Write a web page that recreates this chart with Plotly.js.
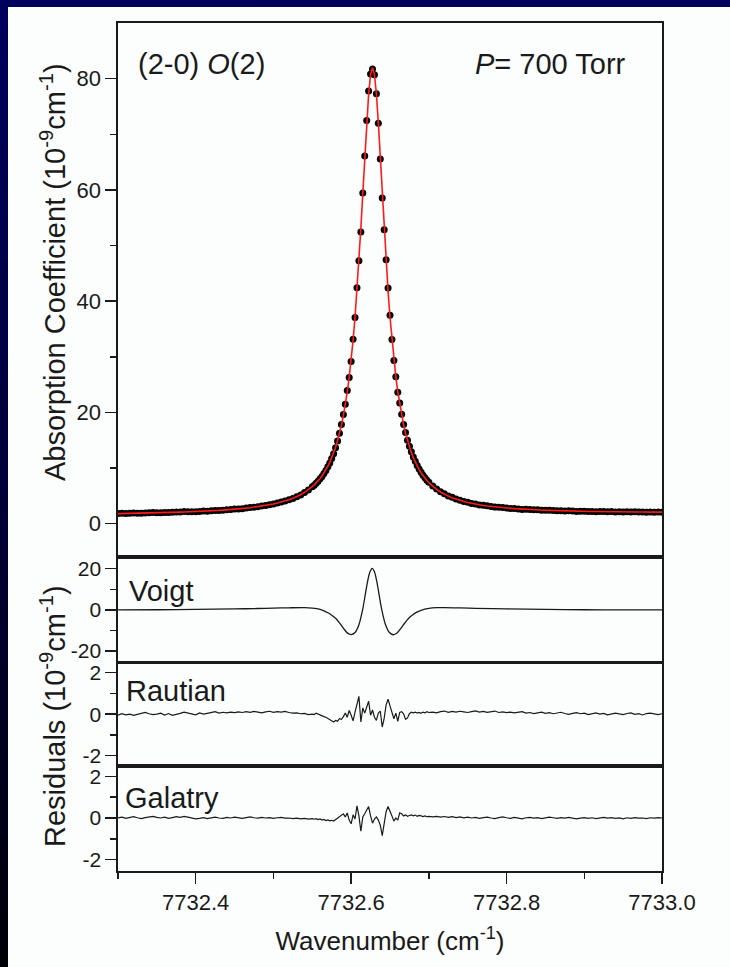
<!DOCTYPE html>
<html>
<head>
<meta charset="utf-8">
<script src="https://cdn.plot.ly/plotly-3.0.1.min.js"></script>
<style>
  html, body { margin: 0; padding: 0; width: 730px; height: 967px; overflow: hidden; }
  body { background: linear-gradient(to bottom, #00005e 0%, #00003a 50%, #000008 100%); position: relative; }
  #panel { position: absolute; left: 8px; top: 7px; right: 0; bottom: 0; background: #fcfdfd; }
  #chart { position: absolute; left: 0; top: 0; width: 730px; height: 967px; }
</style>
</head>
<body>
<div id="panel"></div>
<div id="chart"></div>
<script>
// ---- Data ----
const wavenumber = [
 7732.300,7732.305,7732.310,7732.315,7732.320,7732.325,7732.330,7732.335,7732.340,7732.345,
 7732.350,7732.355,7732.360,7732.365,7732.370,7732.375,7732.380,7732.385,7732.390,7732.395,
 7732.400,7732.405,7732.410,7732.415,7732.420,7732.425,7732.430,7732.435,7732.440,7732.445,
 7732.450,7732.455,7732.460,7732.465,7732.470,7732.475,7732.480,7732.485,7732.490,7732.495,
 7732.500,7732.505,7732.510,7732.515,7732.520,7732.525,7732.530,7732.535,7732.540,7732.545,
 7732.550,
 7732.5525,7732.5550,7732.5575,7732.5600,7732.5625,7732.5650,7732.5675,7732.5700,7732.5725,7732.5750,
 7732.5775,7732.5800,7732.5825,7732.5850,7732.5875,7732.5900,7732.5925,7732.5950,7732.5975,7732.6000,
 7732.6025,7732.6050,7732.6075,7732.6100,7732.6125,7732.6150,7732.6175,7732.6200,7732.6225,7732.6250,
 7732.6275,7732.6300,7732.6325,7732.6350,7732.6375,7732.6400,7732.6425,7732.6450,7732.6475,7732.6500,
 7732.6525,7732.6550,7732.6575,7732.6600,7732.6625,7732.6650,7732.6675,7732.6700,7732.6725,7732.6750,
 7732.6775,7732.6800,7732.6825,7732.6850,7732.6875,7732.6900,7732.6925,7732.6950,7732.6975,7732.7000,
 7732.705,7732.710,7732.715,7732.720,7732.725,7732.730,7732.735,7732.740,7732.745,7732.750,
 7732.755,7732.760,7732.765,7732.770,7732.775,7732.780,7732.785,7732.790,7732.795,7732.800,
 7732.805,7732.810,7732.815,7732.820,7732.825,7732.830,7732.835,7732.840,7732.845,7732.850,
 7732.855,7732.860,7732.865,7732.870,7732.875,7732.880,7732.885,7732.890,7732.895,7732.900,
 7732.905,7732.910,7732.915,7732.920,7732.925,7732.930,7732.935,7732.940,7732.945,7732.950,
 7732.955,7732.960,7732.965,7732.970,7732.975,7732.980,7732.985,7732.990,7732.995,7733.000
];

// measured absorption coefficient (black dots), 1e-9 cm^-1
const measured = [
 1.80,1.85,1.80,1.87,1.91,1.87,1.85,1.91,1.96,2.00,
 1.97,1.96,2.02,1.98,2.04,2.10,2.09,2.17,2.15,2.15,
 2.13,2.18,2.25,2.23,2.31,2.38,2.38,2.41,2.50,2.53,
 2.62,2.65,2.69,2.80,2.91,2.96,3.03,3.17,3.26,3.41,
 3.51,3.70,3.90,4.06,4.30,4.53,4.85,5.16,5.59,6.03,
 6.61,
 6.90,7.28,7.61,8.06,8.47,9.03,9.55,10.22,10.88,11.71,
 12.57,13.65,14.85,16.25,17.82,19.62,21.46,23.94,26.25,29.14,
 33.15,37.05,42.39,47.24,52.41,59.45,66.10,72.46,77.79,80.83,
 81.71,80.68,77.29,71.96,65.55,58.55,52.85,47.44,42.36,37.45,
 33.12,29.31,26.39,23.64,21.70,19.66,17.84,16.39,15.01,13.89,
 12.91,11.96,11.20,10.43,9.83,9.24,8.69,8.26,7.80,7.44,
 6.76,6.24,5.73,5.36,4.98,4.72,4.42,4.22,3.98,3.84,
 3.64,3.53,3.36,3.29,3.21,3.08,2.97,2.95,2.91,2.81,
 2.73,2.72,2.64,2.56,2.58,2.56,2.48,2.48,2.40,2.40,
 2.42,2.36,2.32,2.33,2.28,2.30,2.26,2.20,2.22,2.23,
 2.19,2.20,2.15,2.16,2.19,2.14,2.16,2.11,2.13,2.08,
 2.12,2.08,2.12,2.08,2.09,2.05,2.09,2.06,2.09,2.06
];

// fitted profile (red line)
const fitted = [
 1.80,1.81,1.82,1.84,1.85,1.86,1.88,1.89,1.91,1.92,
 1.94,1.96,1.98,2.00,2.02,2.04,2.06,2.09,2.11,2.14,
 2.17,2.20,2.23,2.26,2.30,2.34,2.38,2.43,2.47,2.53,
 2.58,2.64,2.71,2.78,2.86,2.95,3.04,3.14,3.26,3.39,
 3.53,3.69,3.87,4.07,4.30,4.56,4.86,5.20,5.61,6.08,
 6.64,
 6.96,7.31,7.69,8.11,8.57,9.10,9.67,10.31,11.02,11.82,
 12.72,13.73,14.89,16.20,17.70,19.42,21.41,23.70,26.35,29.42,
 33.00,37.10,41.81,47.14,53.05,59.40,65.90,72.06,77.24,80.73,
 81.96,80.73,77.24,72.06,65.90,59.40,53.05,47.14,41.81,37.10,
 33.02,29.46,26.39,23.74,21.45,19.46,17.74,16.24,14.93,13.77,
 12.76,11.86,11.06,10.35,9.71,9.14,8.62,8.16,7.74,7.36,
 6.71,6.16,5.69,5.29,4.95,4.66,4.40,4.17,3.97,3.80,
 3.64,3.50,3.38,3.27,3.17,3.08,3.00,2.93,2.86,2.80,
 2.75,2.69,2.64,2.60,2.57,2.53,2.49,2.46,2.43,2.40,
 2.38,2.35,2.34,2.31,2.29,2.27,2.26,2.24,2.23,2.21,
 2.21,2.19,2.18,2.16,2.16,2.15,2.14,2.13,2.13,2.12,
 2.11,2.10,2.10,2.09,2.09,2.08,2.08,2.07,2.07,2.06
];

// Voigt residual (own sampling)
const wavenumberVoigt = [
 7732.300,7732.350,7732.400,7732.450,7732.480,7732.500,7732.520,7732.540,7732.550,7732.560,
 7732.565,7732.570,7732.575,7732.580,7732.585,7732.590,7732.595,7732.600,7732.605,7732.610,
 7732.615,7732.618,7732.621,7732.624,7732.627,7732.630,7732.633,7732.636,7732.639,7732.644,
 7732.649,7732.654,7732.659,7732.664,7732.669,7732.674,7732.679,7732.684,7732.690,7732.700,
 7732.710,7732.720,7732.740,7732.760,7732.800,7732.850,7732.900,7732.950,7733.000
];
const residVoigt = [
 0.0,0.05,0.2,0.45,0.65,0.85,1.0,1.05,0.8,0.2,
 -0.5,-1.4,-2.6,-4.1,-6.3,-8.9,-11.2,-12.0,-11.0,-7.2,
 0.5,7.0,13.5,18.3,20.2,18.5,13.8,7.3,0.8,-7.0,
 -10.9,-12.1,-11.3,-9.0,-6.4,-4.1,-2.5,-1.2,-0.2,0.7,
 1.05,1.1,0.95,0.75,0.45,0.2,0.05,0.0,0.0
];

// Rautian residual
const residRautian = [
 -0.05,0.02,-0.03,0.00,-0.06,-0.02,0.04,0.08,0.02,-0.02,
 0.00,0.05,-0.04,0.03,-0.06,-0.02,0.04,0.10,0.05,0.03,
 -0.03,0.06,0.00,0.04,0.08,0.12,0.05,0.09,0.06,0.10,
 0.07,0.11,0.08,0.12,0.09,0.13,0.10,0.06,0.11,0.14,
 0.09,0.12,0.10,0.13,0.08,0.05,0.06,0.02,0.04,-0.02,
 0.00,
 -0.02,0.05,0.00,-0.05,-0.08,-0.12,-0.15,-0.20,-0.26,-0.33,
 -0.38,-0.30,-0.34,-0.22,-0.25,-0.12,0.05,-0.15,0.18,-0.05,
 -0.32,0.10,0.45,0.86,-0.38,0.30,0.05,0.30,0.62,-0.05,
 0.20,-0.15,-0.30,0.05,0.15,-0.62,-0.20,0.45,0.72,0.40,
 0.05,-0.22,0.05,-0.35,0.08,0.12,0.02,-0.25,-0.18,0.02,
 0.10,0.06,0.10,0.05,0.08,0.04,0.10,0.06,0.12,0.08,
 0.10,0.06,0.12,0.15,0.09,0.13,0.10,0.14,0.11,0.08,
 0.12,0.16,0.10,0.13,0.09,0.12,0.15,0.08,0.11,0.07,
 0.10,0.06,0.09,0.12,0.05,0.08,0.03,0.06,0.10,0.04,
 0.07,0.02,0.05,0.09,0.03,-0.01,0.04,0.07,0.02,0.05,
 -0.02,0.03,0.06,0.00,0.04,-0.03,0.02,0.05,0.01,-0.02,
 0.03,0.06,-0.01,0.02,-0.04,0.03,0.05,0.00,-0.02,0.02
];

// Galatry residual
const residGalatry = [
 0.00,0.04,-0.02,0.03,0.06,0.01,-0.03,0.02,0.05,0.08,
 0.03,0.00,0.04,-0.02,0.02,0.06,0.03,0.08,0.04,0.01,
 -0.04,-0.02,0.02,-0.03,0.01,0.04,0.00,-0.02,0.03,0.00,
 0.04,0.01,-0.02,0.02,0.05,0.01,-0.01,0.03,0.00,0.02,
 -0.02,0.01,0.03,-0.01,0.00,-0.03,-0.01,-0.04,-0.02,-0.05,
 -0.03,
 -0.06,-0.03,-0.08,-0.05,-0.10,-0.07,-0.12,-0.09,-0.14,-0.11,
 -0.15,-0.08,-0.04,0.05,0.12,0.20,0.05,0.24,-0.10,-0.28,
 0.15,-0.05,0.58,0.10,-0.64,0.05,0.20,0.40,0.55,0.10,
 -0.25,-0.05,0.05,-0.10,-0.35,-0.85,-0.20,0.30,0.55,0.35,
 0.10,-0.15,0.00,-0.10,0.25,0.20,0.10,0.15,0.08,0.12,
 0.15,0.10,0.14,0.08,0.12,0.10,0.07,0.10,0.06,0.08,
 0.05,0.08,0.04,0.07,0.03,0.06,0.02,0.05,0.01,0.04,
 0.00,0.03,-0.02,0.02,0.04,0.00,-0.03,0.02,0.05,0.01,
 -0.02,0.03,0.00,-0.04,0.01,0.03,-0.01,0.02,-0.03,0.00,
 0.04,0.01,-0.02,0.02,-0.01,0.03,0.00,-0.04,-0.01,0.02,
 -0.02,0.01,-0.03,0.00,0.03,-0.01,0.02,-0.02,0.00,-0.04,
 0.01,-0.02,0.02,-0.01,0.00,-0.03,0.01,-0.01,0.02,0.00
];

// tick labels
const xTickVals = [7732.4, 7732.6, 7732.8, 7733.0];
const xTickText = ["7732.4", "7732.6", "7732.8", "7733.0"];
const absTickVals = [0, 20, 40, 60, 80];
const absTickText = ["0", "20", "40", "60", "80"];
const voigtTickVals = [-20, 0, 20];
const voigtTickText = ["-20", "0", "20"];
const smallTickVals = [-2, 0, 2];
const smallTickText = ["-2", "0", "2"];
const panelNames = ["Voigt", "Rautian", "Galatry"];

(function () {
  const FONT = "Arial, 'Liberation Sans', Helvetica, sans-serif";
  const INK = "#1a1a1a";

  const traces = [
    { x: wavenumber, y: measured, type: "scatter", mode: "markers", xaxis: "x", yaxis: "y",
      marker: { color: "#000000", size: 7 }, hoverinfo: "skip" },
    { x: wavenumber, y: fitted, type: "scatter", mode: "lines", xaxis: "x", yaxis: "y",
      line: { color: "#ff1a1a", width: 1.6 }, hoverinfo: "skip" },
    { x: wavenumberVoigt, y: residVoigt, type: "scatter", mode: "lines", xaxis: "x2", yaxis: "y2",
      line: { color: INK, width: 1.3, shape: "spline", smoothing: 0.8 }, hoverinfo: "skip" },
    { x: wavenumber, y: residRautian, type: "scatter", mode: "lines", xaxis: "x3", yaxis: "y3",
      line: { color: INK, width: 1.2 }, hoverinfo: "skip" },
    { x: wavenumber, y: residGalatry, type: "scatter", mode: "lines", xaxis: "x4", yaxis: "y4",
      line: { color: INK, width: 1.2 }, hoverinfo: "skip" }
  ];

  const common = {
    showline: true, mirror: true, linecolor: INK, linewidth: 1.6,
    showgrid: false, zeroline: false,
    tickfont: { family: FONT, size: 22, color: INK }
  };
  function xax(extra) {
    return Object.assign({}, common, {
      range: [7732.3, 7733.0], ticks: "", showticklabels: false
    }, extra);
  }
  function yax(extra) {
    return Object.assign({}, common, {
      ticks: "outside", ticklen: 11, tickwidth: 1.5, tickcolor: INK,
      tickmode: "array"
    }, extra);
  }

  const BOT = 871, TOPM = 23, H = 967, W = 730;
  const ph = H - TOPM - (H - BOT);
  function fy(py) { return (BOT - py) / ph; }
  const L = 118, R = 662;
  function fx(px) { return (px - L) / (R - L); }
  function minorY(vals) {
    return { tickmode: "array", tickvals: vals, ticks: "outside", ticklen: 6, tickwidth: 1.5, tickcolor: INK };
  }
  const resFont = { family: FONT, size: 21, color: INK };

  const layout = {
    width: W, height: H, autosize: false,
    margin: { l: L, r: W - R, t: TOPM, b: H - BOT, pad: 0 },
    paper_bgcolor: "rgba(0,0,0,0)", plot_bgcolor: "rgba(0,0,0,0)",
    showlegend: false,
    font: { family: FONT, color: INK },
    xaxis: xax({ anchor: "y", domain: [0, 1] }),
    xaxis2: xax({ anchor: "y2", matches: "x" }),
    xaxis3: xax({ anchor: "y3", matches: "x" }),
    xaxis4: xax({ anchor: "y4", matches: "x", ticks: "outside", ticklen: 11, tickwidth: 1.5,
      tickcolor: INK, showticklabels: true, tickmode: "array", tickvals: xTickVals, ticktext: xTickText,
      minor: { tickmode: "array", tickvals: [7732.3, 7732.5, 7732.7, 7732.9], ticks: "outside",
        ticklen: 6, tickwidth: 1.5, tickcolor: INK },
      title: { text: "Wavenumber (cm<sup>-1</sup>)", font: { family: FONT, size: 26, color: INK }, standoff: 18 } }),
    yaxis: yax({ anchor: "x", domain: [fy(557), 1], range: [-6, 90],
      tickvals: absTickVals, ticktext: absTickText, minor: minorY([10, 30, 50, 70]) }),
    yaxis2: yax({ anchor: "x2", domain: [fy(662.3), fy(557)], range: [-25.5, 25.7], tickfont: resFont,
      tickvals: voigtTickVals, ticktext: voigtTickText, minor: minorY([-10, 10]) }),
    yaxis3: yax({ anchor: "x3", domain: [fy(766), fy(662.3)], range: [-2.5, 2.5], tickfont: resFont,
      tickvals: smallTickVals, ticktext: smallTickText, minor: minorY([-1, 1]) }),
    yaxis4: yax({ anchor: "x4", domain: [0, fy(766)], range: [-2.55, 2.5], tickfont: resFont,
      tickvals: smallTickVals, ticktext: smallTickText, minor: minorY([-1, 1]) }),
    annotations: [
      { xref: "paper", yref: "paper", x: fx(53), y: fy(272), textangle: -90, showarrow: false,
        xanchor: "center", yanchor: "middle",
        text: "Absorption Coefficient (10<sup>-9</sup>cm<sup>-1</sup>)", font: { family: FONT, size: 29, color: INK } },
      { xref: "paper", yref: "paper", x: fx(53), y: fy(716), textangle: -90, showarrow: false,
        xanchor: "center", yanchor: "middle",
        text: "Residuals (10<sup>-9</sup>cm<sup>-1</sup>)", font: { family: FONT, size: 29, color: INK } },
      { xref: "paper", yref: "paper", x: fx(136), y: fy(64), showarrow: false, xanchor: "left", yanchor: "middle",
        text: "(2-0) <i>O</i>(2)", font: { family: FONT, size: 29, color: INK } },
      { xref: "paper", yref: "paper", x: fx(628), y: fy(64), showarrow: false, xanchor: "right", yanchor: "middle",
        text: "<i>P</i>= 700 Torr", font: { family: FONT, size: 29, color: INK } },
      { xref: "paper", yref: "paper", x: fx(127), y: fy(591), showarrow: false, xanchor: "left", yanchor: "middle",
        text: panelNames[0], font: { family: FONT, size: 29, color: INK } },
      { xref: "paper", yref: "paper", x: fx(124), y: fy(691), showarrow: false, xanchor: "left", yanchor: "middle",
        text: panelNames[1], font: { family: FONT, size: 29, color: INK } },
      { xref: "paper", yref: "paper", x: fx(123), y: fy(798), showarrow: false, xanchor: "left", yanchor: "middle",
        text: panelNames[2], font: { family: FONT, size: 29, color: INK } }
    ]
  };

  Plotly.newPlot("chart", traces, layout, { staticPlot: true, displayModeBar: false });
})();
</script>
</body>
</html>
